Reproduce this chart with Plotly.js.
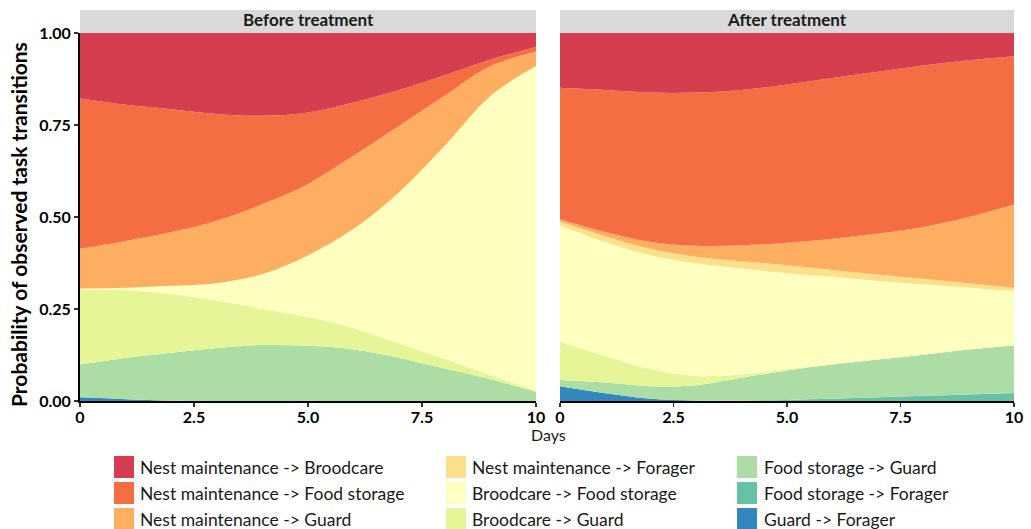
<!DOCTYPE html>
<html><head><meta charset="utf-8">
<script src="https://cdn.plot.ly/plotly-3.0.1.min.js"></script>
<style>html,body{margin:0;padding:0;background:#fff}#chart{width:1031px;height:529px}</style>
</head><body><div id="chart"></div>
<script>
// ---- Data ----
const days = [0, 1, 2, 3, 4, 5, 6, 7, 8, 9, 10];
const panels = ["Before treatment", "After treatment"];
// legend order (top of stack first)
const seriesNames = [
  "Nest maintenance -> Broodcare",
  "Nest maintenance -> Food storage",
  "Nest maintenance -> Guard",
  "Nest maintenance -> Forager",
  "Broodcare -> Food storage",
  "Broodcare -> Guard",
  "Food storage -> Guard",
  "Food storage -> Forager",
  "Guard -> Forager"
];
const seriesColors = ["#D53E4F", "#F46D43", "#FDAE61", "#FEE08B", "#FFFFBF", "#E6F598", "#ABDDA4", "#66C2A5", "#3288BD"];

// Before treatment
const beforeNMBC = [0.178, 0.195, 0.208, 0.220, 0.225, 0.216, 0.189, 0.155, 0.115, 0.072, 0.038];
const beforeNMFS = [0.408, 0.370, 0.334, 0.290, 0.240, 0.194, 0.144, 0.097, 0.055, 0.018, 0.012];
const beforeNMG  = [0.108, 0.127, 0.146, 0.170, 0.190, 0.194, 0.199, 0.180, 0.136, 0.081, 0.040];
const beforeNMF  = [0, 0, 0, 0, 0, 0, 0, 0, 0, 0, 0];
const beforeBCFS = [0.002, 0.007, 0.022, 0.047, 0.095, 0.168, 0.270, 0.412, 0.580, 0.759, 0.882];
const beforeBCG  = [0.205, 0.184, 0.160, 0.129, 0.098, 0.078, 0.058, 0.039, 0.026, 0.011, 0.003];
const beforeFSG  = [0.089, 0.112, 0.130, 0.144, 0.152, 0.150, 0.140, 0.117, 0.088, 0.059, 0.025];
const beforeFSF  = [0, 0, 0, 0, 0, 0, 0, 0, 0, 0, 0];
const beforeGF   = [0.010, 0.005, 0.001, 0, 0, 0, 0, 0, 0, 0, 0];

// After treatment
const afterNMBC = [0.149, 0.155, 0.162, 0.162, 0.155, 0.140, 0.122, 0.105, 0.088, 0.074, 0.063];
const afterNMFS = [0.357, 0.386, 0.406, 0.416, 0.422, 0.430, 0.437, 0.440, 0.439, 0.426, 0.403];
const afterNMG  = [0.006, 0.011, 0.018, 0.030, 0.043, 0.061, 0.085, 0.111, 0.141, 0.180, 0.226];
const afterNMF  = [0.011, 0.016, 0.018, 0.018, 0.020, 0.022, 0.018, 0.018, 0.015, 0.012, 0.009];
const afterBCFS = [0.317, 0.310, 0.310, 0.306, 0.288, 0.261, 0.239, 0.213, 0.191, 0.168, 0.148];
const afterBCG  = [0.103, 0.072, 0.046, 0.025, 0.009, 0.003, 0, 0, 0, 0, 0];
const afterFSG  = [0.017, 0.029, 0.034, 0.042, 0.062, 0.080, 0.093, 0.103, 0.112, 0.122, 0.129];
const afterFSF  = [0, 0, 0, 0, 0.001, 0.003, 0.006, 0.010, 0.014, 0.018, 0.022];
const afterGF   = [0.040, 0.021, 0.006, 0.001, 0, 0, 0, 0, 0, 0, 0];

const xTickVals = [0, 2.5, 5, 7.5, 10];
const xTickText = ["0", "2.5", "5.0", "7.5", "10"];
const yTickVals = [0, 0.25, 0.5, 0.75, 1];
const yTickText = ["0.00", "0.25", "0.50", "0.75", "1.00"];

// ---- Build ----
const beforeSeries = [beforeNMBC, beforeNMFS, beforeNMG, beforeNMF, beforeBCFS, beforeBCG, beforeFSG, beforeFSF, beforeGF];
const afterSeries  = [afterNMBC, afterNMFS, afterNMG, afterNMF, afterBCFS, afterBCG, afterFSG, afterFSF, afterGF];

const W = 1031, H = 529;
const px = v => v / W;
const py = v => 1 - v / H;
const FONT = "Lato, 'Open Sans', sans-serif";

const traces = [];
[beforeSeries, afterSeries].forEach((set, p) => {
  for (let i = set.length - 1; i >= 0; i--) {
    traces.push({
      type: "scatter", mode: "lines",
      x: days, y: set[i],
      name: seriesNames[i],
      stackgroup: p === 0 ? "before" : "after",
      xaxis: p === 0 ? "x" : "x2", yaxis: p === 0 ? "y" : "y2",
      line: {width: 0, shape: "spline", smoothing: 1, color: seriesColors[i]},
      fillcolor: seriesColors[i],
      showlegend: false, hoverinfo: "skip"
    });
  }
});

const axisX = (dom) => ({
  domain: dom, range: [0, 10], showgrid: false, zeroline: false,
  showline: true, linecolor: "#000", linewidth: 2,
  ticks: "outside", ticklen: 4, tickcolor: "#333", tickwidth: 1.5,
  ticklabelstandoff: -3,
  tickvals: xTickVals, ticktext: xTickText,
  tickfont: {family: FONT, size: 16, color: "#000", weight: "bold"},
  fixedrange: true
});
const yDom = [py(401), py(33)];

const shapes = [];
const annotations = [];
const panelX = [[80, 536], [560, 1014]];
panels.forEach((t, i) => {
  shapes.push({type: "rect", xref: "paper", yref: "paper",
    x0: px(panelX[i][0]), x1: px(panelX[i][1]), y0: py(33), y1: py(10),
    fillcolor: "#D9D9D9", line: {width: 0}, layer: "below"});
  annotations.push({xref: "paper", yref: "paper", x: px((panelX[i][0] + panelX[i][1]) / 2), y: py(19.5),
    text: "<b>" + t + "</b>", showarrow: false, xanchor: "center", yanchor: "middle",
    font: {family: FONT, size: 17, color: "#1a1a1a"}});
});
annotations.push({xref: "paper", yref: "paper", x: px(18), y: py(225),
  text: "<b>Probability of observed task transitions</b>", textangle: -90, showarrow: false,
  xanchor: "center", yanchor: "middle", font: {family: FONT, size: 21, color: "#000"}});
annotations.push({xref: "paper", yref: "paper", x: px(548), y: py(434),
  text: "Days", showarrow: false, xanchor: "center", yanchor: "middle",
  font: {family: FONT, size: 16, color: "#1a1a1a"}});

// manual legend, 3 columns
const colSquareX = [114, 446, 737];
const colTextX = [138, 470, 762];
const rowY = [467, 493, 519];
seriesNames.forEach((n, i) => {
  const c = Math.floor(i / 3), r = i % 3;
  shapes.push({type: "rect", xref: "paper", yref: "paper",
    x0: px(colSquareX[c]), x1: px(colSquareX[c] + 20), y0: py(rowY[r] + 11), y1: py(rowY[r] - 11),
    fillcolor: seriesColors[i], line: {width: 0}});
  annotations.push({xref: "paper", yref: "paper", x: px(colTextX[c]), y: py(rowY[r]),
    text: n.replace(/>/g, "&gt;"), showarrow: false, xanchor: "left", yanchor: "middle",
    font: {family: FONT, size: 17.5, color: "#1a1a1a"}});
});

const layout = {
  width: W, height: H, margin: {l: 0, r: 0, t: 0, b: 0},
  paper_bgcolor: "#fff", plot_bgcolor: "#fff", showlegend: false,
  xaxis: axisX([px(80), px(536)]),
  xaxis2: Object.assign(axisX([px(560), px(1014)]), {anchor: "y2"}),
  yaxis: {domain: yDom, range: [0, 1], showgrid: false, zeroline: false,
    showline: true, linecolor: "#000", linewidth: 2,
    ticks: "outside", ticklen: 4, tickcolor: "#333", tickwidth: 1.5,
    tickvals: yTickVals, ticktext: yTickText,
    tickfont: {family: FONT, size: 16, color: "#000", weight: "bold"}, fixedrange: true},
  yaxis2: {domain: yDom, range: [0, 1], anchor: "x2", showgrid: false, zeroline: false,
    showline: false, showticklabels: false, ticks: "", fixedrange: true},
  shapes: shapes, annotations: annotations
};
layout.xaxis.anchor = "y";

Plotly.newPlot("chart", traces, layout, {displayModeBar: false, staticPlot: true});
</script>
</body></html>
